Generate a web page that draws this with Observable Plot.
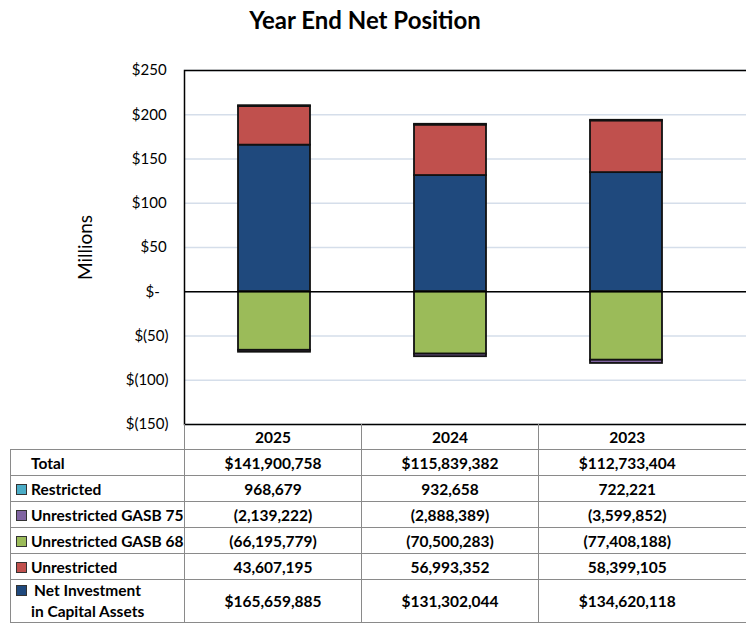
<!DOCTYPE html>
<html><head><meta charset="utf-8">
<script src="https://cdn.jsdelivr.net/npm/d3@7"></script>
<script src="https://cdn.jsdelivr.net/npm/@observablehq/plot@0.6"></script>
<style>
body{margin:0;width:746px;height:626px;overflow:hidden;background:#fff;font-family:Lato,"Open Sans",sans-serif;position:relative;color:#000}
#title{position:absolute;top:5px;left:0;width:730px;text-align:center;font-weight:bold;font-size:24px}
#chart{position:absolute;top:0;left:0;width:764px}
#chart svg{max-width:none !important}
#tbl{position:absolute;top:424px;left:10px;width:760px;border-collapse:collapse;table-layout:fixed;font-weight:bold;font-size:15.5px}
#tbl td{border:1px solid #8a8a8a;text-align:center;padding:0;height:25px;white-space:nowrap}
#tbl tr.hdr td.blank{border:none;border-right:1px solid #8a8a8a}
#tbl tr.hdr td{border-top:none}
#tbl td.lab{text-align:left;padding-left:5px}
#tbl td.c3{border-right:none}
#tbl td.fill{border-left:none;border-right:none}
#tbl tr.last td{height:42px}
.sw{display:inline-block;width:9px;height:9px;border:1px solid #333;margin-right:4px;vertical-align:0px}
</style></head>
<body>
<div id="title">Year End Net Position</div>
<div id="chart"></div>
<table id="tbl"></table>
<script>
const years = ["2025", "2024", "2023"];
const netInvestment = [165659885, 131302044, 134620118];
const unrestricted = [43607195, 56993352, 58399105];
const restricted = [968679, 932658, 722221];
const gasb68 = [-66195779, -70500283, -77408188];
const gasb75 = [-2139222, -2888389, -3599852];
const totals = [141900758, 115839382, 112733404];
const seriesNames = ["Net Investment in Capital Assets", "Unrestricted", "Restricted", "Unrestricted GASB 68", "Unrestricted GASB 75"];
const seriesColors = ["#1f497d", "#c0504d", "#4bacc6", "#9bbb59", "#8064a2"];
const yTicks = [250, 200, 150, 100, 50, 0, -50, -100, -150];

const seriesValues = [netInvestment, unrestricted, restricted, gasb68, gasb75];
const data = [];
seriesNames.forEach((s, i) => years.forEach((y, j) => data.push({year: y, series: s, value: seriesValues[i][j] / 1e6})));

const fmtTick = d => d === 0 ? "$-\u2007" : d < 0 ? `$(${-d})` : `$${d}\u2009`;

const chart = Plot.plot({
  width: 764, height: 440,
  marginTop: 70, marginBottom: 16, marginLeft: 184, marginRight: 0,
  style: {fontFamily: "Lato, 'Open Sans', sans-serif", fontSize: "15px", background: "transparent", maxWidth: "none"},
  x: {domain: years, range: [184, 715], paddingInner: 0.593, paddingOuter: 0.2966, axis: null},
  y: {domain: [-150, 250], ticks: yTicks, tickFormat: fmtTick, tickSize: 0, tickPadding: 16,
      label: "Millions", labelAnchor: "center", labelArrow: "none", labelOffset: 106},
  color: {domain: seriesNames, range: seriesColors},
  marks: [
    Plot.gridY(yTicks, {stroke: "#d5deea", strokeOpacity: 1, strokeWidth: 1.5}),
    Plot.barY(data, {x: "year", y: "value", fill: "series", stroke: "#111", strokeWidth: 1.8, order: seriesNames}),
    Plot.ruleY([0], {stroke: "#000", strokeWidth: 1.3}),
    Plot.frame({stroke: "#000", strokeWidth: 1.5})
  ]
});
const lab = chart.querySelector('[aria-label="y-axis label"]');
if (lab) lab.setAttribute("font-size", "19px");
document.getElementById("chart").appendChild(chart);

// table
const fmt = d3.format(",");
const num = (v, dollar) => v < 0 ? `(${fmt(-v)})` : (dollar ? "$" : "") + fmt(v);
const rows = [
  {label: "Total", vals: totals, dollar: true, color: null},
  {label: "Restricted", vals: restricted, color: seriesColors[2]},
  {label: "Unrestricted GASB 75", vals: gasb75, color: seriesColors[4]},
  {label: "Unrestricted GASB 68", vals: gasb68, color: seriesColors[3]},
  {label: "Unrestricted", vals: unrestricted, color: seriesColors[1]},
  {label: "Net Investment", label2: "in Capital Assets", vals: netInvestment, dollar: true, color: seriesColors[0], last: true}
];
const cells = vals => vals.map((v, i) => `<td class="c${i + 1}">${v}</td>`).join("") + `<td class="fill"></td>`;
let html = `<colgroup><col style="width:174px"><col style="width:177px"><col style="width:177px"><col style="width:177px"><col style="width:55px"></colgroup>`;
html += `<tr class="hdr"><td class="blank"></td>${cells(years)}</tr>`;
rows.forEach(r => {
  const sw = r.color ? `<span class="sw" style="background:${r.color}"></span>` : `<span style="display:inline-block;width:15px"></span>`;
  let l;
  if (r.last) l = `<div style="line-height:21px">${sw}<span style="padding-left:3px">${r.label}</span><br><span style="padding-left:15px">${r.label2}</span></div>`;
  else l = sw + r.label;
  html += `<tr class="${r.last ? "last" : ""}"><td class="lab">${l}</td>${cells(r.vals.map(v => num(v, r.dollar)))}</tr>`;
});
document.getElementById("tbl").innerHTML = html;
</script>
</body></html>
